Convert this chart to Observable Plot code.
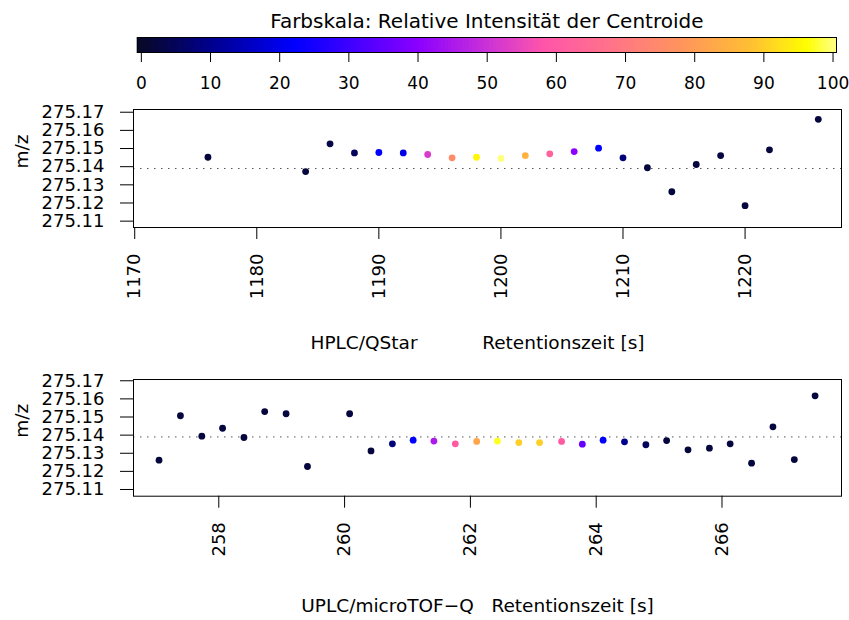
<!DOCTYPE html>
<html><head><meta charset="utf-8">
<script src="https://cdn.jsdelivr.net/npm/d3@7"></script>
<script src="https://cdn.jsdelivr.net/npm/@observablehq/plot@0.6"></script>
<style>
body{margin:0;background:#fff;}
#wrap{position:relative;width:849px;height:620px;overflow:hidden;}
#wrap svg{position:absolute;left:0;}
</style></head><body><div id="wrap"></div>
<script>
// ---- data ----
const hplcTime = [1176,1184,1186,1188,1190,1192,1194,1196,1198,1200,1202,1204,1206,1208,1210,1212,1214,1216,1218,1220,1222,1226];
const hplcMz = [275.1452,275.1373,275.1526,275.1476,275.1478,275.1476,275.1467,275.1449,275.1452,275.1445,275.1461,275.1471,275.1483,275.1502,275.1449,275.1394,275.1262,275.1412,275.1461,275.1185,275.1493,275.1661];
const hplcIntensity = [2,2,3,5,22,20,52,75,95,100,85,62,40,22,8,2,2,2,2,2,2,2];

const uplcTime = [257.05,257.39,257.73,258.06,258.40,258.73,259.07,259.41,260.08,260.42,260.76,261.09,261.42,261.76,262.10,262.43,262.77,263.10,263.45,263.78,264.11,264.45,264.79,265.12,265.46,265.80,266.13,266.47,266.81,267.15,267.48];
const uplcMz = [275.1262,275.1507,275.1394,275.1438,275.1387,275.1530,275.1518,275.1227,275.1518,275.1313,275.1352,275.1372,275.1367,275.1352,275.1365,275.1367,275.1359,275.1359,275.1365,275.1350,275.1372,275.1363,275.1347,275.1370,275.1319,275.1328,275.1352,275.1245,275.1446,275.1265,275.1617];
const uplcIntensity = [2,2,2,2,2,2,2,2,2,2,8,22,45,60,82,97,90,90,60,35,22,10,5,2,2,2,2,2,2,2,2];

const referenceMz = 275.139;
const mzTicks = [275.11,275.12,275.13,275.14,275.15,275.16,275.17];
const hplcTicks = [1170,1180,1190,1200,1210,1220];
const uplcTicks = [258,260,262,264,266];
const intensityTicks = [0,10,20,30,40,50,60,70,80,90,100];
const colorStops = [0,10,22,40,50,58,68,78,88,96,100];
const colorRange = ["#08082a","#00008f","#0000ff","#8c00ff","#cc33d6","#ff55aa","#ff7488","#ff955c","#ffbf33","#ffff00","#ffff80"];

const legendTitle = "Farbskala: Relative Intensität der Centroide";
const hplcLabel = "HPLC/QStar" + "\u00a0".repeat(11) + "Retentionszeit [s]";
const uplcLabel = "UPLC/microTOF\u2212Q" + "\u00a0".repeat(3) + "Retentionszeit [s]";
const yLabel = "m/z";

// ---- helpers ----
const FONT = "DejaVu Sans, sans-serif";
const colorOpts = {type:"linear", domain:colorStops, range:colorRange, clamp:true};
const wrap = document.getElementById("wrap");
function place(svg, top){ svg.style.top = top + "px"; wrap.appendChild(svg); }

// ---- colour bar ----
const gradientSteps = d3.range(-0.6, 100.5, 0.5);
const legend = Plot.plot({
  width:849, height:100, marginTop:37, marginBottom:48, marginLeft:136.7, marginRight:13,
  style:{fontFamily:FONT, fontSize:"17px", color:"black", background:"transparent", overflow:"visible"},
  x:{domain:[-0.6,100.5], ticks:intensityTicks, tickSize:10, tickPadding:14, label:null},
  y:{axis:null, domain:[0,1]},
  color:colorOpts,
  marks:[
    Plot.rectY(gradientSteps,{x1:d=>d, x2:d=>Math.min(100.5,d+0.8), y1:0, y2:1, fill:d=>Math.max(0,Math.min(100,d)), shapeRendering:"crispEdges"}),
    Plot.frame({stroke:"black"}),
    Plot.text([legendTitle],{frameAnchor:"top", dy:-24, fontSize:20})
  ]
});
place(legend, 0);

function panel(time, mz, inten, xDomain, yDomain, xTicks, label, height, bottomGap, labelDy){
  const data = time.map((t,i)=>({t, mz:mz[i], intensity:inten[i]}));
  return Plot.plot({
    width:849, height, marginTop:9, marginBottom:bottomGap, marginLeft:133, marginRight:8,
    style:{fontFamily:FONT, fontSize:"18px", color:"black", background:"transparent", overflow:"visible"},
    x:{domain:xDomain, ticks:xTicks, tickFormat:d=>String(d), tickSize:12, tickPadding:14, tickRotate:-90, label:null},
    y:{domain:yDomain, ticks:mzTicks, tickFormat:d=>d.toFixed(2), tickSize:13, tickPadding:16, label:null},
    color:colorOpts,
    marks:[
      Plot.ruleY([referenceMz],{stroke:"#555", strokeDasharray:"1.5,5.5"}),
      Plot.dot(data,{x:"t", y:"mz", fill:"intensity", r:3.4}),
      Plot.frame({stroke:"black"}),
      Plot.text([yLabel],{frameAnchor:"left", dx:-111, rotate:-90, fontSize:18.5}),
      Plot.text([label],{frameAnchor:"bottom", dy:labelDy, fontSize:18.5, dx:-10})
    ]
  });
}

place(panel(hplcTime,hplcMz,hplcIntensity,[1169.9,1227.9],[275.1065,275.1715],hplcTicks,hplcLabel,270,143,121), 100);
place(panel(uplcTime,uplcMz,uplcIntensity,[256.644,267.90],[275.1063,275.1707],uplcTicks,uplcLabel,250,124.3,115.5), 370);
</script></body></html>
